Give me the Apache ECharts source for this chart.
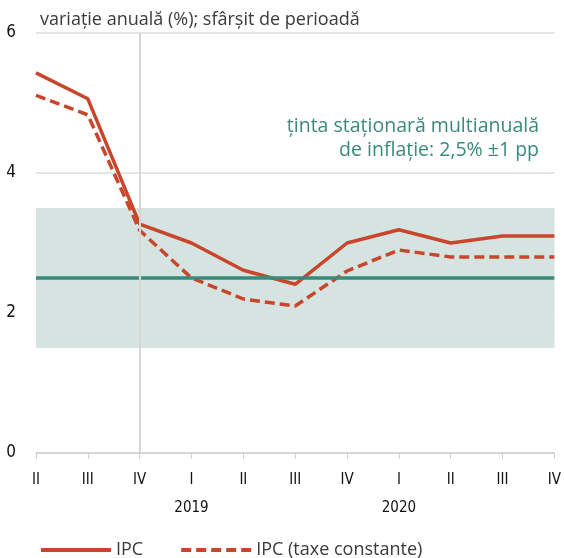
<!DOCTYPE html>
<html>
<head>
<meta charset="utf-8">
<script src="https://cdn.jsdelivr.net/npm/echarts@6/dist/echarts.min.js"></script>
<style>
html,body{margin:0;padding:0;background:#fff;}
#chart{width:564px;height:558px;}
</style>
</head>
<body>
<div id="chart"></div>
<script>
var quarters = ['II','III','IV','I','II','III','IV','I','II','III','IV'];
var years = ['','','','2019','','','','2020','','',''];
var ipc = [5.43, 5.06, 3.27, 3.0, 2.61, 2.41, 3.0, 3.19, 3.0, 3.1, 3.1];
var ipcTaxe = [5.11, 4.83, 3.18, 2.5, 2.2, 2.1, 2.6, 2.9, 2.8, 2.8, 2.8];
var yTicks = [0, 2, 4, 6];
var targetValue = 2.5;
var targetBand = [1.5, 3.5];

var red = '#c9452b';
var teal = '#3a8a7c';
var narrow = '"DejaVu Sans Condensed", "Roboto", sans-serif';
var body = '"Open Sans", sans-serif';

var myChart = echarts.init(document.getElementById('chart'));
var option = {
    animation: false,
    title: {
        text: 'variație anuală (%); sfârșit de perioadă',
        left: 35,
        top: 6,
        textStyle: {
            color: '#3a3a3a',
            fontSize: 18,
            fontWeight: 'normal',
            fontFamily: body
        }
    },
    graphic: [{
        type: 'text',
        right: 25,
        top: 116,
        style: {
            text: 'ținta staționară multianuală',
            fill: teal,
            fontSize: 19.5,
            fontFamily: body
        }
    }, {
        type: 'text',
        right: 25,
        top: 140,
        style: {
            text: 'de inflație: 2,5% ±1 pp',
            fill: teal,
            fontSize: 19.5,
            fontFamily: body
        }
    }],
    legend: {
        data: ['IPC', 'IPC (taxe constante)'],
        left: 34,
        top: 536,
        itemWidth: 70,
        itemHeight: 4,
        itemGap: 36,
        itemStyle: {opacity: 0},
        lineStyle: {width: 4},
        textStyle: {
            fontSize: 18,
            color: '#3a3a3a',
            fontFamily: body
        }
    },
    grid: {
        left: 36,
        right: 7,
        top: 33,
        bottom: 105
    },
    xAxis: [{
        type: 'category',
        boundaryGap: false,
        data: quarters,
        axisLine: {lineStyle: {color: '#cfcfcf', width: 1.5}},
        axisTick: {length: 6, lineStyle: {color: '#cfcfcf'}},
        axisLabel: {
            margin: 20,
            color: '#111',
            fontSize: 15,
            fontWeight: 500,
            fontFamily: narrow
        }
    }, {
        type: 'category',
        boundaryGap: false,
        position: 'bottom',
        offset: 28,
        data: years,
        axisLine: {show: false},
        axisTick: {show: false},
        axisLabel: {
            margin: 20,
            interval: 0,
            color: '#111',
            fontSize: 15,
            fontWeight: 500,
            fontFamily: narrow
        }
    }],
    yAxis: {
        type: 'value',
        min: yTicks[0],
        max: yTicks[yTicks.length - 1],
        interval: 2,
        axisLine: {show: false},
        axisTick: {show: false},
        splitLine: {lineStyle: {color: '#dcdcdc', width: 1.5}},
        axisLabel: {
            margin: 20,
            color: '#111',
            fontSize: 17,
            fontWeight: 500,
            fontFamily: narrow
        }
    },
    series: [{
        name: 'tinta',
        type: 'line',
        data: [],
        z: 1,
        silent: true,
        markArea: {
            silent: true,
            itemStyle: {color: '#d5e4e1'},
            data: [[{yAxis: targetBand[0]}, {yAxis: targetBand[1]}]]
        },
        markLine: {
            silent: true,
            symbol: 'none',
            label: {show: false},
            data: [
                {yAxis: targetValue, lineStyle: {color: teal, width: 3.5, type: 'solid'}},
                {xAxis: 2, lineStyle: {color: '#d6d6d6', width: 2, type: 'solid'}}
            ]
        }
    }, {
        name: 'IPC',
        type: 'line',
        data: ipc,
        z: 3,
        symbol: 'none',
        color: red,
        lineStyle: {color: red, width: 3.5}
    }, {
        name: 'IPC (taxe constante)',
        type: 'line',
        data: ipcTaxe,
        z: 3,
        symbol: 'none',
        color: red,
        lineStyle: {color: red, width: 3.5, type: [10, 5]}
    }]
};
myChart.setOption(option);
</script>
</body>
</html>
